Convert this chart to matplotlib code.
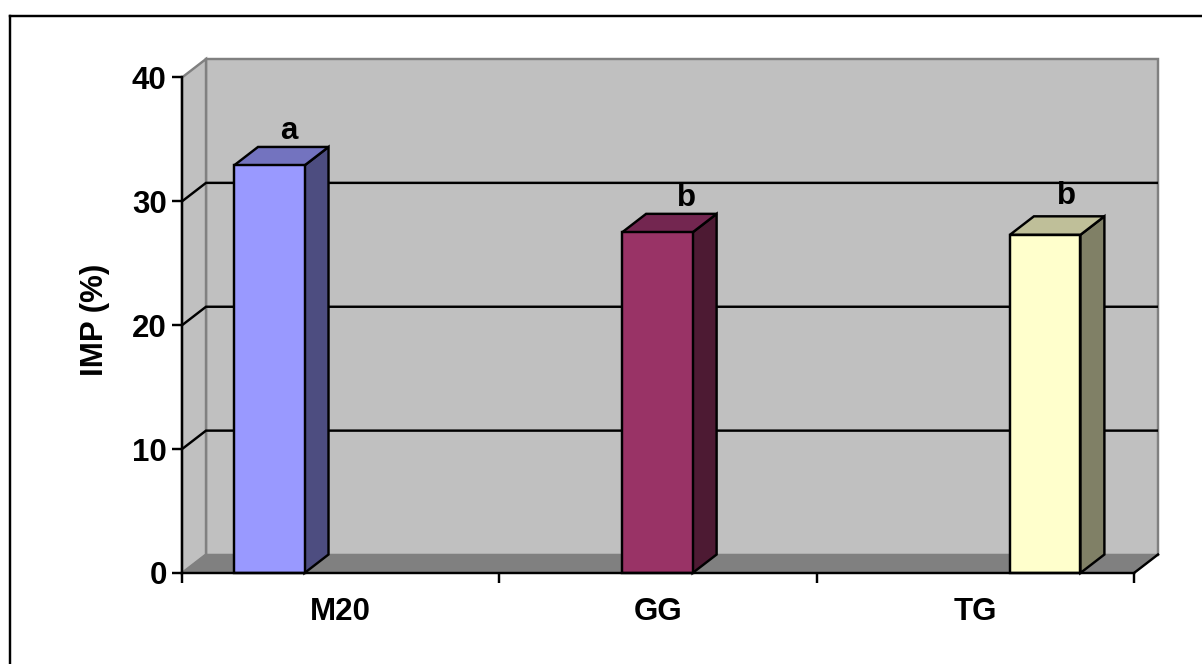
import matplotlib
matplotlib.use("Agg")
import matplotlib.pyplot as plt
from matplotlib.patches import Polygon
from matplotlib.lines import Line2D

categories = ["M20", "GG", "TG"]
values = [32.9, 27.5, 27.3]
letters = ["a", "b", "b"]
bar_positions = [-0.225, 0.998, 2.22]
y_ticks = [0, 10, 20, 30, 40]
front_colors = ["#9999FF", "#993366", "#FFFFCC"]
side_colors = ["#4D4D80", "#4D1A33", "#808066"]
top_colors = ["#7373BF", "#732650", "#BFBF99"]
letter_shift_px = [(19.5, 7.5), (29.5, 7.5), (21.5, 12.5)]

W, H = 1202, 664
plt.rcParams["font.family"] = ["Liberation Sans", "DejaVu Sans"]
fig = plt.figure(figsize=(W / 100, H / 100), dpi=100, facecolor="white")
x0, x1, y_top, y_zero = 182, 1134, 77.5, 573
ax = fig.add_axes([x0 / W, 1 - y_zero / H, (x1 - x0) / W, (y_zero - y_top) / H])
ax.set_xlim(-0.5, 2.5)
ax.set_ylim(0, 40)
ax.patch.set_visible(False)
LW = 1.75
FS = 22.5
for s in ["top", "right"]:
    ax.spines[s].set_visible(False)
for s in ["left", "bottom"]:
    ax.spines[s].set_linewidth(LW)
    ax.spines[s].set_color("black")
    ax.spines[s].set_zorder(6)

# depth offset in data units
dx = 24 / ((x1 - x0) / 3)
dy = 18.5 / ((y_zero - y_top) / 40)
xl, xr = ax.get_xlim()
GREY = "#808080"
WALL = "#C0C0C0"
# back wall, side wall, floor
ax.add_patch(Polygon([(xl + dx, dy), (xr + dx, dy), (xr + dx, 40 + dy), (xl + dx, 40 + dy)],
                     closed=True, fc=WALL, ec=GREY, lw=LW, clip_on=False, zorder=1))
ax.add_patch(Polygon([(xl, 0), (xl + dx, dy), (xl + dx, 40 + dy), (xl, 40)],
                     closed=True, fc=WALL, ec=GREY, lw=LW, clip_on=False, zorder=1))
ax.add_patch(Polygon([(xl, 0), (xr, 0), (xr + dx, dy), (xl + dx, dy)],
                     closed=True, fc=GREY, ec=GREY, lw=0.8, clip_on=False, zorder=1))
# gridlines
for v in y_ticks[1:-1]:
    ax.plot([xl, xl + dx, xr + dx], [v, v + dy, v + dy], color="black", lw=LW,
            clip_on=False, zorder=2, solid_joinstyle="miter", solid_capstyle="butt")
ax.plot([xr, xr + dx], [0, dy], color="black", lw=LW, clip_on=False, zorder=2)

# bars
w = 70.5 / ((x1 - x0) / 3)
for i, (p, v) in enumerate(zip(bar_positions, values)):
    l, r = p - w / 2, p + w / 2
    ax.add_patch(Polygon([(r, 0), (r + dx, dy), (r + dx, v + dy), (r, v)], closed=True,
                         fc=side_colors[i], ec="black", lw=LW, clip_on=False, zorder=3))
    ax.add_patch(Polygon([(l, v), (r, v), (r + dx, v + dy), (l + dx, v + dy)], closed=True,
                         fc=top_colors[i], ec="black", lw=LW, clip_on=False, zorder=3))
    ax.bar(p, v, width=w, color=front_colors[i], edgecolor="black", linewidth=LW, zorder=4,
           clip_on=False)
    sx, sy = letter_shift_px[i]
    ax.annotate(letters[i], (p, v + dy), xytext=(sx * 0.72, sy * 0.72),
                textcoords="offset points", ha="center", va="baseline",
                fontsize=FS, fontweight="bold", zorder=7, annotation_clip=False)

ax.set_yticks(y_ticks)
ax.set_yticklabels([str(t) for t in y_ticks], fontsize=FS, fontweight="bold")
ax.tick_params(axis="y", length=7, width=LW, pad=4, direction="out")
ax.set_xticks([-0.5, 0.5, 1.5, 2.5])
ax.set_xticklabels([])
ax.tick_params(axis="x", length=7, width=LW, direction="out")
for c, name in enumerate(categories):
    ax.annotate(name, (c, 0), xytext=(0, -17.5), textcoords="offset points", ha="center", va="top",
                fontsize=FS, fontweight="bold", annotation_clip=False)
fig.text(94.5 / W, 1 - 319.5 / H, "IMP (%)", rotation=90, ha="center", va="center",
         fontsize=FS, fontweight="bold")

# outer frame
fig.add_artist(Line2D([10 / W, 10 / W], [0, 1 - 16 / H], color="black", lw=LW))
fig.add_artist(Line2D([10 / W, 1], [1 - 16 / H, 1 - 16 / H], color="black", lw=LW))

fig.savefig("out.png", dpi=100)
